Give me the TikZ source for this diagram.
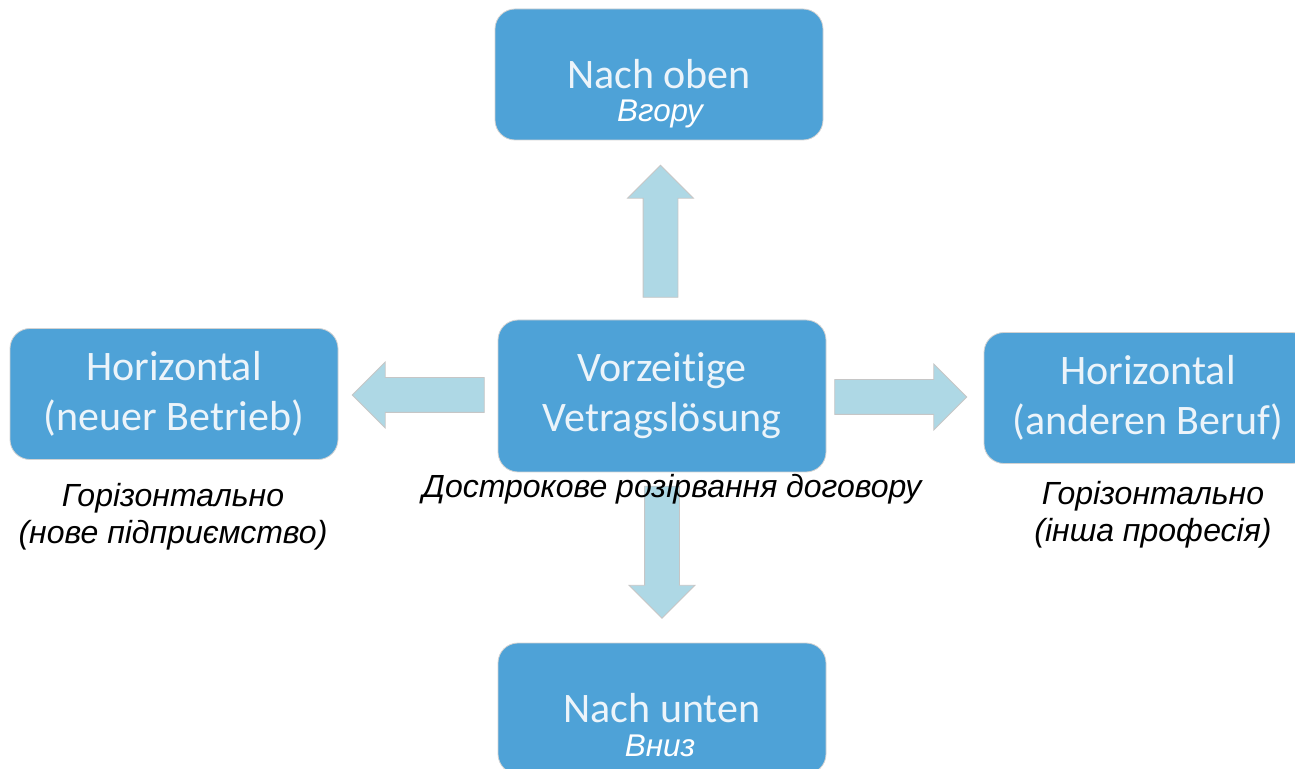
\documentclass[tikz,border=0pt]{standalone}
\usepackage{fontspec}
\setmainfont{Carlito}[Ligatures=NoCommon]
\newfontfamily\uafont{Liberation Sans}
\usetikzlibrary{calc}
\usetikzlibrary{shapes.arrows}

\definecolor{boxblue}{RGB}{78,162,215}
\definecolor{boxtext}{RGB}{236,244,250}
\definecolor{arrowblue}{RGB}{174,216,229}

\begin{document}
\begin{tikzpicture} [x=.5pt, y=-.5pt,
  box/.style={draw=gray!35, fill=boxblue, rounded corners=10pt, minimum width=164pt, minimum height=65.5pt, text=boxtext, align=center, font=\fontsize{21}{25}\selectfont},
  bigarrow/.style={single arrow, draw=gray!45, fill=arrowblue, inner sep=8.5pt, minimum width=32.5pt, single arrow head extend=7.75pt, minimum height=66pt},
  ua/.style={font=\uafont\itshape\fontsize{16}{18.5}\selectfont, align=center, inner sep=0pt},
  uabox/.style={font=\uafont\itshape\fontsize{15.7}{18}\selectfont, text=white, inner sep=0pt, anchor=base}]

\useasboundingbox (0,0) rectangle (1295,769);

\node[box] (oben) at (659,74.5) {Nach oben};
\node[box, minimum height=76pt] (mitte) at (662,396) {Vorzeitige\\Vetragslösung};
\node[box] (links) at (174,394) {Horizontal\\(neuer Betrieb)};
\node[box] (rechts) at (1148,398) {Horizontal\\(anderen Beruf)};
\node[box] (unten) at (662,708.5) {Nach unten};

\node[uabox] (obenua) at (660,122) {Вгору};
\node[uabox] (untenua) at (660,756) {Вниз};

\node[bigarrow, shape border rotate=90] (aoben) at ($(mitte.north)!.5!(oben.south)+(0,10)$) {};
\node[bigarrow, shape border rotate=180] (alinks) at ($(mitte.west)!.5!(links.east)+(9,0)$) {};
\node[bigarrow] (arechts) at ($(mitte.east)!.5!(rechts.west)+(-13,0)$) {};
\node[bigarrow, shape border rotate=270] (aunten) at ($(mitte.south)!.5!(unten.north)+(0,-14)$) {};

\node[ua, anchor=base] (mitteua) at (672,498) {Дострокове розірвання договору};
\node[ua, anchor=north] (linksua) at (173,483) {Горізонтально\\(нове підприємство)};
\node[ua, anchor=north] (rechtsua) at (1153,481) {Горізонтально\\(інша професія)};

\end{tikzpicture}
\end{document}
